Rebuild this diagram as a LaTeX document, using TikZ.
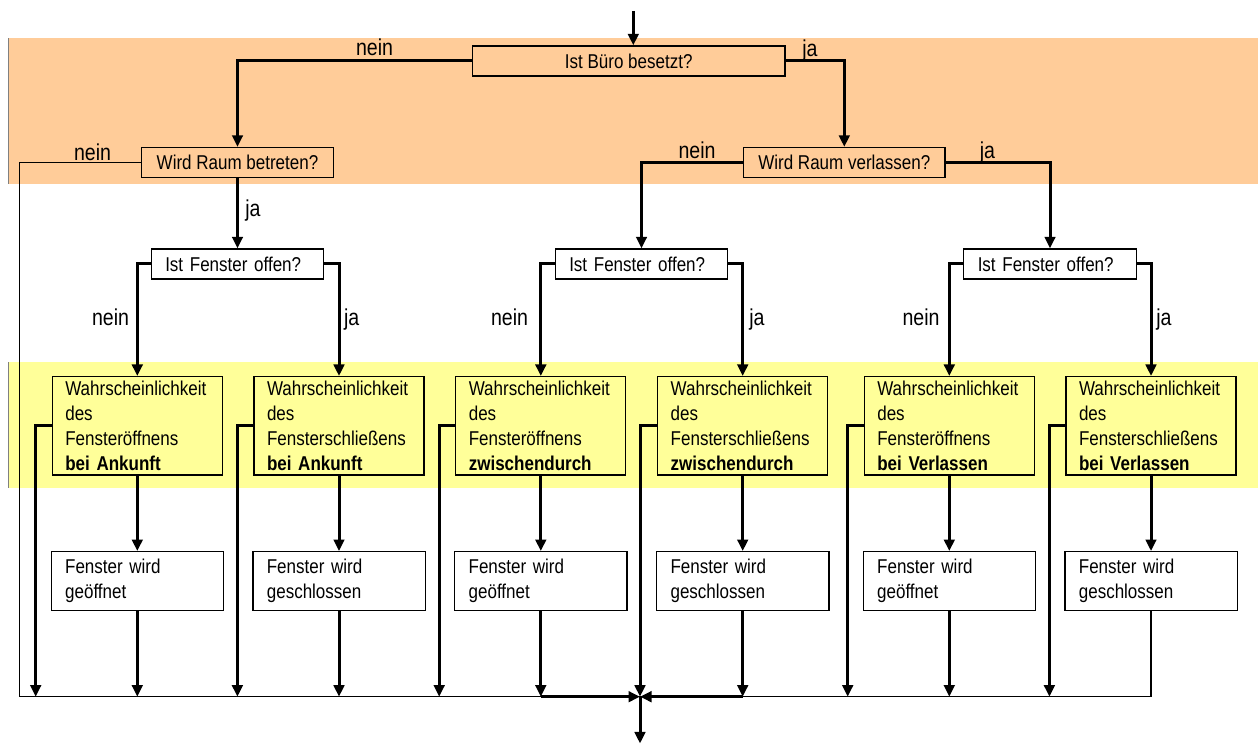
\documentclass[tikz,border=0pt]{standalone}
\usepackage{fontspec}
\setmainfont{Liberation Sans}[FakeStretch=0.85]
\usetikzlibrary{arrows.meta}
\definecolor{bandorange}{RGB}{255,204,153}
\definecolor{bandgelb}{RGB}{255,255,153}
\begin{document}
\begin{tikzpicture}[line join=miter,
  frage/.style={draw,line width=1.3bp,minimum height=30bp,inner sep=0bp,font=\fontsize{20bp}{25bp}\selectfont},
  fenster/.style={frage,text width=144.5bp,inner xsep=14bp,align=left},
  wahr/.style={draw,line width=1.3bp,text width=144bp,inner xsep=13bp,inner ysep=0bp,minimum height=98.3bp,align=left,font=\fontsize{20bp}{25bp}\selectfont},
  ergebnis/.style={wahr,text width=144.3bp,inner xsep=14bp,minimum height=59bp},
  marke/.style={anchor=base,inner sep=0bp,font=\fontsize{23bp}{25bp}\selectfont},
  pfeil/.style={line width=3bp,-{Triangle[length=11.5bp,width=10.5bp]}},
  duenn/.style={line width=1.3bp}]
%%
\useasboundingbox (0bp,0bp) rectangle (1258bp,744bp);
\fill [bandorange] (8bp,560bp) rectangle (1258bp,706bp);
\fill [bandgelb] (8bp,256bp) rectangle (1258bp,382bp);
\draw [gray,line width=0.8bp] (8bp,560bp) -- (8bp,706bp) (8bp,256bp) -- (8bp,382bp);
\node (1) at (628.7bp,683.0bp) [frage,minimum width=312.7bp] {Ist Büro besetzt?};
  \node (2) at (237.5bp,581.5bp) [frage,minimum width=191.6bp] {Wird Raum betreten?};
  \node (3) at (844.3bp,581.5bp) [frage,minimum width=201.5bp] {Wird Raum verlassen?};
  \node (4) at (237.5bp,480.0bp) [fenster] {Ist Fenster offen?};
  \node (5) at (641.5bp,480.0bp) [fenster] {Ist Fenster offen?};
  \node (6) at (1050.0bp,480.0bp) [fenster] {Ist Fenster offen?};
  \node (7) at (137.3bp,318.2bp) [wahr] {Wahrscheinlichkeit\\des\\Fensteröffnens\\\textbf{bei Ankunft}};
  \node (8) at (339.0bp,318.2bp) [wahr] {Wahrscheinlichkeit\\des\\Fensterschließens\\\textbf{bei Ankunft}};
  \node (9) at (540.8bp,318.2bp) [wahr] {Wahrscheinlichkeit\\des\\Fensteröffnens\\\textbf{zwischendurch}};
  \node (10) at (742.7bp,318.2bp) [wahr] {Wahrscheinlichkeit\\des\\Fensterschließens\\\textbf{zwischendurch}};
  \node (11) at (949.3bp,318.2bp) [wahr] {Wahrscheinlichkeit\\des\\Fensteröffnens\\\textbf{bei Verlassen}};
  \node (12) at (1151.0bp,318.2bp) [wahr] {Wahrscheinlichkeit\\des\\Fensterschließens\\\textbf{bei Verlassen}};
  \node (13) at (137.3bp,162.8bp) [ergebnis] {Fenster wird\\geöffnet};
  \node (14) at (339.0bp,162.8bp) [ergebnis] {Fenster wird\\geschlossen};
  \node (15) at (540.8bp,162.8bp) [ergebnis] {Fenster wird\\geöffnet};
  \node (16) at (742.7bp,162.8bp) [ergebnis] {Fenster wird\\geschlossen};
  \node (17) at (949.3bp,162.8bp) [ergebnis] {Fenster wird\\geöffnet};
  \node (18) at (1151.0bp,162.8bp) [ergebnis] {Fenster wird\\geschlossen};
  \coordinate (0) at (633.3bp,733.0bp);
  \coordinate (19) at (640.0bp,47.3bp);
  \coordinate (20) at (640.0bp,0.5bp);
  \coordinate (21) at (19.3bp,47.3bp);
  \coordinate (22) at (35.7bp,47.3bp);
  \coordinate (23) at (237.4bp,47.3bp);
  \coordinate (24) at (439.2bp,47.3bp);
  \coordinate (25) at (847.7bp,47.3bp);
  \coordinate (26) at (1049.4bp,47.3bp);
  \node (30) at (374.5bp,688.0bp) [marke] {nein};
  \node (31) at (810.0bp,687.0bp) [marke] {ja};
  \node (32) at (92.5bp,583.0bp) [marke] {nein};
  \node (33) at (253.0bp,527.0bp) [marke] {ja};
  \node (34) at (697.0bp,585.7bp) [marke] {nein};
  \node (35) at (987.5bp,585.5bp) [marke] {ja};
  \node (36) at (110.5bp,418.0bp) [marke] {nein};
  \node (37) at (351.7bp,418.0bp) [marke] {ja};
  \node (38) at (509.5bp,418.0bp) [marke] {nein};
  \node (39) at (757.0bp,418.0bp) [marke] {ja};
  \node (40) at (921.0bp,418.0bp) [marke] {nein};
  \node (41) at (1164.0bp,418.0bp) [marke] {ja};
  \draw [pfeil] (0) -- (0 |- 1.north);
  \draw [pfeil] (1.west) -| (2.north);
  \draw [pfeil] (1.east) -| (3.north);
  \draw [duenn] (2.west) -| (21) -- (19);
  \draw [pfeil] (2) -- (4);
  \draw [pfeil] (3.west) -| (5.north);
  \draw [pfeil] (3.east) -| (6.north);
  \draw [pfeil] (4.west) -| (7.north);
  \draw [pfeil] (4.east) -| (8.north);
  \draw [pfeil] (5.west) -| (9.north);
  \draw [pfeil] (5.east) -| (10.north);
  \draw [pfeil] (6.west) -| (11.north);
  \draw [pfeil] (6.east) -| (12.north);
  \draw [pfeil] (7) -- (13);
  \draw [pfeil] (8) -- (14);
  \draw [pfeil] (9) -- (15);
  \draw [pfeil] (10) -- (16);
  \draw [pfeil] (11) -- (17);
  \draw [pfeil] (12) -- (18);
  \draw [pfeil] (7.west) -| (22);
  \draw [pfeil] (8.west) -| (23);
  \draw [pfeil] (9.west) -| (24);
  \draw [pfeil] (10.west) -| (19);
  \draw [pfeil] (11.west) -| (25);
  \draw [pfeil] (12.west) -| (26);
  \draw [pfeil] (13) -- (13 |- 19);
  \draw [pfeil] (14) -- (14 |- 19);
  \draw [pfeil] (15) -- (15 |- 19);
  \draw [pfeil] (16) -- (16 |- 19);
  \draw [pfeil] (17) -- (17 |- 19);
  \draw [duenn] (18.south) |- (19);
  \draw [pfeil] (15 |- 19) -- (19);
  \draw [pfeil] (16 |- 19) -- (19);
  \draw [pfeil] (19) -- (20);
%
\end{tikzpicture}
\end{document}
